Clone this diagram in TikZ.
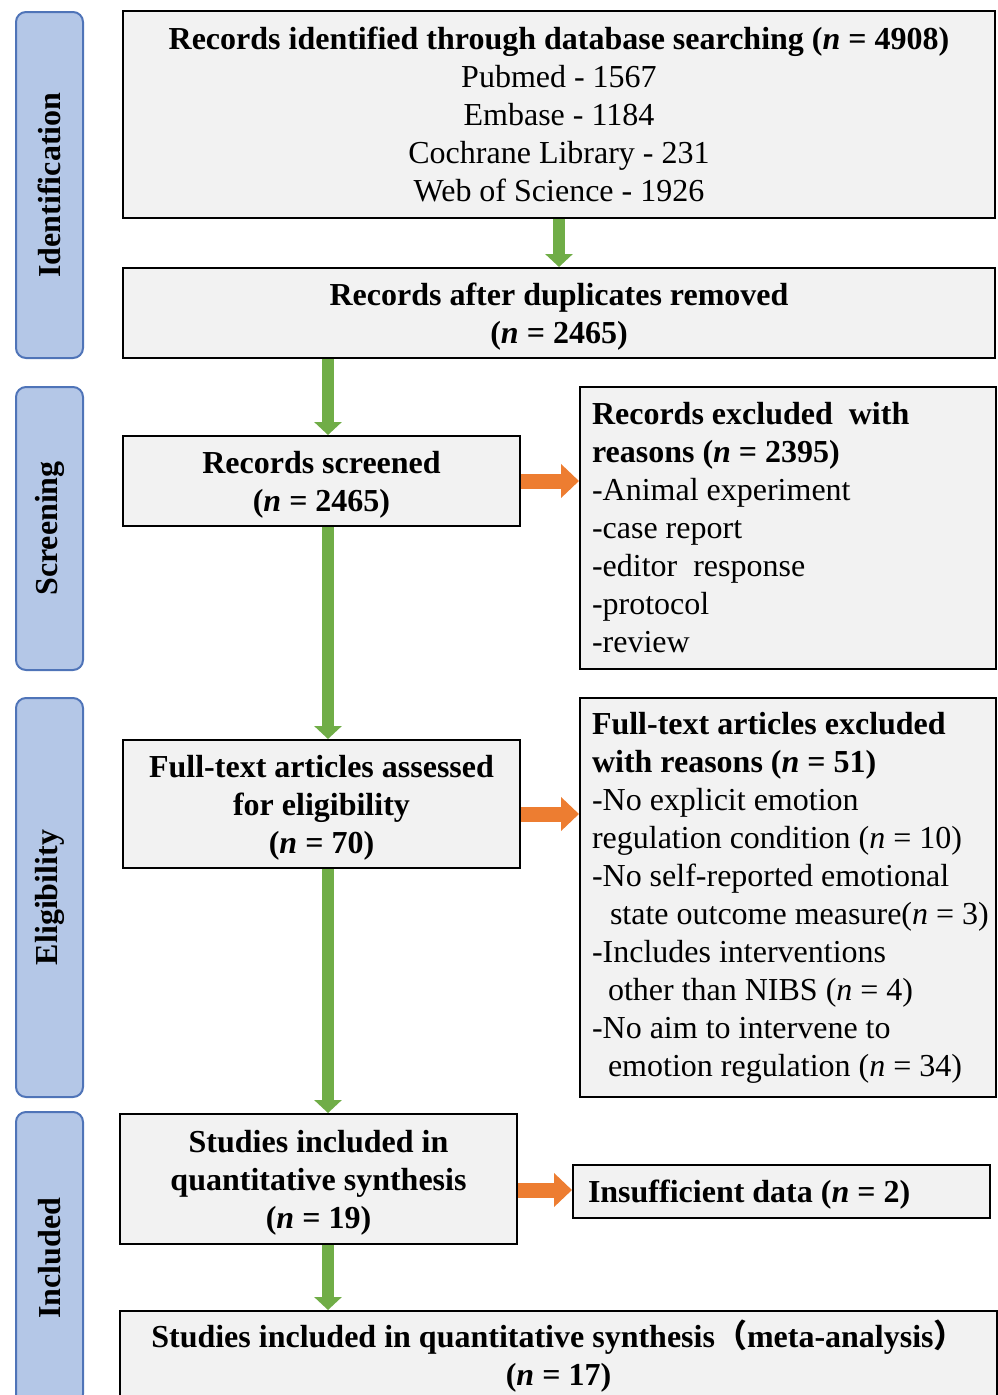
\documentclass[tikz,border=0pt]{standalone}
\usepackage{fontspec}
\setmainfont{Liberation Serif}
\newfontfamily\cjk{Noto Sans CJK SC}
\usetikzlibrary{arrows.meta}
\definecolor{boxfill}{HTML}{F2F2F2}
\definecolor{sidefill}{HTML}{B4C7E7}
\definecolor{sidedraw}{HTML}{4F74B8}
\definecolor{grn}{HTML}{70AD47}
\definecolor{org}{HTML}{ED7D31}
\newcommand{\upfix}[1]{\rule{0pt}{#1}}
\newcommand{\natsp}{\spaceskip=0pt\xspaceskip=0pt\relax}
\begin{document}
\begin{tikzpicture}[x=1pt,y=-1pt,
 box/.style={draw=black, line width=2pt, fill=boxfill, inner sep=0pt, font=\fontsize{32}{38}\selectfont, align=center},
 lbox/.style={box, align=left},
 side/.style={draw=sidedraw, line width=2pt, fill=sidefill, rounded corners=10pt, rotate=90, minimum height=67pt, inner sep=0pt, font=\fontsize{32}{38}\selectfont\bfseries},
 garrow/.style={grn, line width=12pt, -{Triangle[width=27pt,length=13pt]}},
 oarrow/.style={org, line width=15pt, -{Triangle[width=33pt,length=18pt]}},
]
\useasboundingbox (0,0) rectangle (998,1395);
\clip (0,0) rectangle (998,1395);

% side labels
\node[side, minimum width=346pt] (s1) at (49.5,185) {Identification};
\node[side, minimum width=283pt] (s2) at (49.5,528.5) {Screening};
\node[side, minimum width=399pt] (s3) at (49.5,897.5) {Eligibility};
\node[side, minimum width=292pt] (s4) at (49.5,1258) {Included};

% boxes
\node[box, minimum width=872pt, minimum height=207pt] (b1) at (559,114.5)
 {\textbf{Records identified through database searching (\textit{n} = 4908)}\\Pubmed - 1567\\Embase - 1184\\Cochrane Library - 231\\Web of Science - 1926};
\node[box, minimum width=872pt, minimum height=90pt] (b2) at (559,313)
 {\upfix{30pt}\textbf{Records after duplicates removed}\\\textbf{(\textit{n} = 2465)}};
\node[box, minimum width=397pt, minimum height=90pt] (b3) at (321.5,481)
 {\upfix{30pt}\textbf{Records screened}\\\textbf{(\textit{n} = 2465)}};
\node[lbox, text width=392pt, minimum width=416pt, minimum height=282pt] (b4) at (788,528)
 {\natsp\textbf{Records excluded\ \ with}\\\textbf{reasons (\textit{n} = 2395)}\\-Animal experiment\\-case report\\-editor\ \ response\\-protocol\\-review};
\node[box, minimum width=397pt, minimum height=128pt] (b5) at (321.5,804)
 {\upfix{30pt}\textbf{Full-text articles assessed}\\\textbf{for eligibility}\\\textbf{(\textit{n} = 70)}};
\node[lbox, text width=392pt, minimum width=416pt, minimum height=399pt] (b6) at (788,897.5)
 {\natsp\textbf{Full-text articles excluded}\\\textbf{with reasons (\textit{n} = 51)}\\-No explicit emotion\\\mbox{regulation condition (\textit{n} = 10)}\\-No self-reported emotional\\\hspace*{18pt}\mbox{state outcome measure(\textit{n} = 3)}\\-Includes interventions\\\hspace*{16pt}\mbox{other than NIBS (\textit{n} = 4)}\\-No aim to intervene to\\\hspace*{16pt}\mbox{emotion regulation (\textit{n} = 34)}};
\node[box, minimum width=397pt, minimum height=130pt] (b7) at (318.5,1179)
 {\upfix{29pt}\textbf{Studies included in}\\\textbf{quantitative synthesis}\\\textbf{(\textit{n} = 19)}};
\node[lbox, text width=387pt, minimum width=417pt, minimum height=53pt] (b8) at (781.5,1191.5)
 {\natsp\upfix{28pt}\textbf{Insufficient data (\textit{n} = 2)}};
\node[box, minimum width=877pt, minimum height=91pt] (b9) at (558.5,1356.5)
 {\textbf{Studies included in quantitative synthesis{\cjk\bfseries （}meta-analysis{\cjk\bfseries ）}}\\\textbf{(\textit{n} = 17)}};

% green arrows
\draw[garrow] (b1) -- (b2);
\draw[garrow] ([xshift=6.5pt]b3.north |- b2.south) -- ([xshift=6.5pt]b3.north);
\draw[garrow] ([xshift=6.5pt]b3.south) -- ([xshift=6.5pt]b3.south |- b5.north);
\draw[garrow] ([xshift=6.5pt]b5.south) -- ([xshift=6.5pt]b5.south |- b7.north);
\draw[garrow] ([xshift=9.5pt]b7.south) -- ([xshift=9.5pt]b7.south |- b9.north);

% orange arrows
\draw[oarrow] (b3.east) -- (b3.east -| b4.west);
\draw[oarrow] ([yshift=-10pt]b5.east) -- ([yshift=-10pt]b5.east -| b6.west);
\draw[oarrow] ([yshift=-11pt]b7.east) -- ([yshift=-11pt]b7.east -| b8.west);
\end{tikzpicture}
\end{document}
